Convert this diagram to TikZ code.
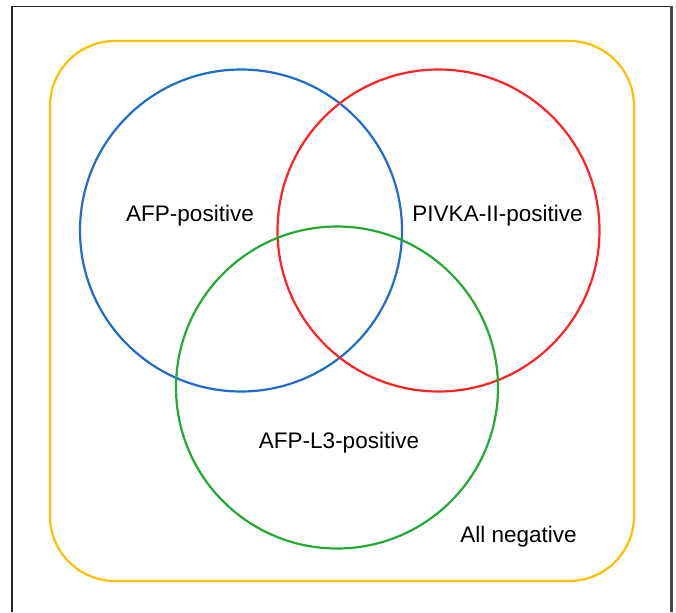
\documentclass[tikz,border=0pt]{standalone}
\usepackage{fontspec}
\setmainfont{Liberation Sans}
\definecolor{vblue}{RGB}{31,108,204}
\definecolor{vred}{RGB}{255,34,34}
\definecolor{vgreen}{RGB}{34,170,51}
\definecolor{vorange}{RGB}{255,190,0}
\definecolor{frame}{RGB}{40,40,40}
\begin{document}
\begin{tikzpicture}[x=1pt,y=-1pt,
  setcircle/.style={circle,draw=#1,line width=2.2pt,minimum size=322pt,inner sep=0pt},
  lbl/.style={anchor=base,inner sep=0pt,font=\fontsize{22.5}{26}\selectfont}]
\useasboundingbox[fill=white] (0,0) rectangle (676,612);
\draw[frame,line width=1.6pt] (12,612) -- (12,6.5) -- (671,6.5);
\draw[frame!85,line width=3pt] (671,6.5) -- (671,612);
\node[draw=vorange,line width=2.2pt,rounded corners=65pt,minimum width=584pt,minimum height=540pt,inner sep=0pt] (all) at (342,311) {};
\node[setcircle=vblue] (afp) at (241,230.5) {};
\node[setcircle=vred] (pivka) at (438.5,230.5) {};
\node[setcircle=vgreen] (afpl3) at (337,387.5) {};
\node[lbl] (tafp) at (190,221) {AFP-positive};
\node[lbl] (tpivka) at (497.5,221) {PIVKA-II-positive};
\node[lbl] (tafpl3) at (339,448) {AFP-L3-positive};
\node[lbl] (tall) at (518.5,542) {All negative};
\end{tikzpicture}
\end{document}
